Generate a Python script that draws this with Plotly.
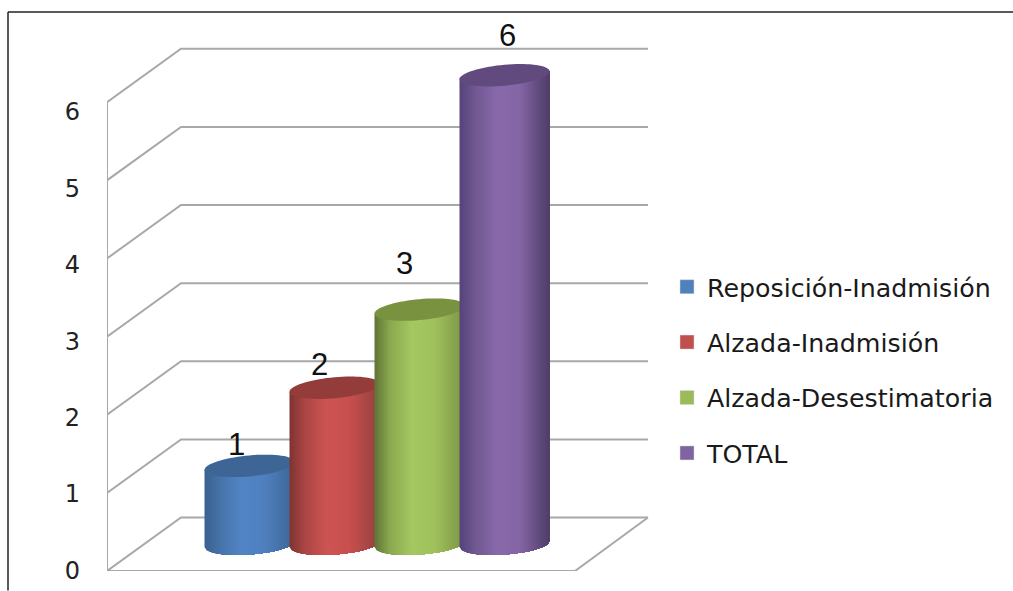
import math
import plotly.graph_objects as go

# ---- data ----
CATEGORIES = ["Reposición-Inadmisión", "Alzada-Inadmisión", "Alzada-Desestimatoria", "TOTAL"]
VALUES = [1, 2, 3, 6]
TICKS = [0, 1, 2, 3, 4, 5, 6]

# ---- style / geometry ----
W, H = 1013, 591
UNIT = 78.2           # px per value unit
CAT = 85.0            # px per category step
FIRST = 249.5         # px of first cylinder centre
LEFT, BASE = 107, 571.5
SWATCH = ["#4f81bd", "#c0504d", "#9bbb59", "#8064a2"]
CAP = ["#3d6696", "#943c3a", "#78923f", "#614a7e"]
SHADES = [
    [(0, "#3a6190"), (.17, "#4673a9"), (.42, "#5285c6"), (.67, "#4f7fbd"), (1, "#3d6696")],
    [(0, "#7d3432"), (.17, "#ab4644"), (.42, "#cd5452"), (.67, "#c74f4d"), (1, "#934140")],
    [(0, "#5f7535"), (.17, "#8aa84f"), (.42, "#a5c861"), (.67, "#a0c05c"), (1, "#7b9545")],
    [(0, "#55437a"), (.17, "#6f5890"), (.42, "#8969ab"), (.67, "#8466a5"), (1, "#4e3d68")],
]
LABEL_SHIFT = [(-13, 21), (-15, 23), (-15, 46), (3, 40)]  # px nudges of the value labels


def xv(px):
    return (px - FIRST) / CAT


def dy(px):
    return px / UNIT


def hex2rgb(c):
    return tuple(int(c[k:k + 2], 16) for k in (1, 3, 5))


def shade(stops, u):
    for (a, ca), (b, cb) in zip(stops, stops[1:]):
        if u <= b:
            f = (u - a) / (b - a)
            ra, rb = hex2rgb(ca), hex2rgb(cb)
            return "rgb(%d,%d,%d)" % tuple(round(p + (q - p) * f) for p, q in zip(ra, rb))
    return stops[-1][1]


fig = go.Figure()
GRID = dict(color="#a8a8a8", width=2)
wall_x = [xv(LEFT), xv(181), xv(648)]
for t in TICKS:
    y0 = t
    y1 = t + dy(53.5)
    fig.add_trace(go.Scatter(x=wall_x, y=[y0, y1, y1], mode="lines", line=GRID,
                             showlegend=False, hoverinfo="skip", cliponaxis=False))
# front post, floor edge
fig.add_trace(go.Scatter(x=[xv(LEFT), xv(LEFT)], y=[TICKS[0], TICKS[-1]], mode="lines", line=GRID,
                         showlegend=False, hoverinfo="skip", cliponaxis=False))
fig.add_trace(go.Scatter(x=[xv(LEFT), xv(575), xv(648)], y=[0, 0, dy(53.5)], mode="lines", line=GRID,
                         showlegend=False, hoverinfo="skip", cliponaxis=False))

# cylinders: painter's gradient, every strip runs to the right edge so no seams show
R = 45 / CAT
N = 46
BASE_C = dy(27)
for i, v in enumerate(VALUES):
    top = BASE_C + v
    grid = [-1 + 2 * k / N for k in range(N + 1)]
    for k in range(N):
        ss = grid[k:]
        xs = [i + R * s for s in ss]
        ys = [BASE_C + dy(3 * s - 10.5 * math.sqrt(max(0, 1 - s * s))) for s in ss]
        xs += [i + R * s for s in reversed(ss)]
        ys += [top + dy(4 * s) for s in reversed(ss)]
        col = shade(SHADES[i], (k + .5) / N)
        fig.add_trace(go.Scatter(x=xs, y=ys, mode="none", fill="toself", fillcolor=col,
                                 showlegend=False, hoverinfo="skip", cliponaxis=False))
    th = [2 * math.pi * j / 72 for j in range(73)]
    fig.add_trace(go.Scatter(x=[i + R * math.cos(a) for a in th],
                             y=[top + dy(4 * math.cos(a) + 10.5 * math.sin(a)) for a in th],
                             mode="none", fill="toself", fillcolor=CAP[i], showlegend=False,
                             hoverinfo="skip", cliponaxis=False))

# legend entries
for i, name in enumerate(CATEGORIES):
    fig.add_trace(go.Scatter(x=[None], y=[None], mode="markers", name=name, legendgroup=name,
                             marker=dict(symbol="square", size=14, color=SWATCH[i],
                                         line=dict(color="#d8d8d8", width=0.5))))

# carrier for the tick labels (their spacing differs a little from the gridlines)
fig.add_trace(go.Scatter(x=[xv(LEFT)] * len(TICKS), y=TICKS, yaxis="y2", mode="markers",
                         marker=dict(size=1, opacity=0), showlegend=False, hoverinfo="skip"))

# value labels
annotations = []
for i, v in enumerate(VALUES):
    annotations.append(dict(x=i, y=BASE_C + v, text=str(v), showarrow=False,
                            xshift=LABEL_SHIFT[i][0], yshift=LABEL_SHIFT[i][1],
                            font=dict(family="Liberation Sans", size=31, color="#111111")))

plot_w = W - LEFT
frame = dict(color="#222222", width=1.5)
px, py = (lambda p: (p - LEFT) / plot_w), (lambda p: (BASE - p) / BASE)
shapes = [
    dict(type="line", xref="paper", yref="paper", x0=px(8), x1=px(8), y0=py(12), y1=py(H), line=frame),
    dict(type="line", xref="paper", yref="paper", x0=px(8), x1=px(W), y0=py(12), y1=py(12), line=frame),
]

fig.update_layout(
    width=W, height=H, margin=dict(l=LEFT, r=0, t=0, b=H - BASE, pad=0, autoexpand=False),
    paper_bgcolor="white", plot_bgcolor="white", showlegend=True,
    xaxis=dict(range=[xv(LEFT), xv(W)], visible=False, fixedrange=True),
    yaxis=dict(range=[0, BASE / UNIT], visible=False, fixedrange=True),
    yaxis2=dict(overlaying="y", side="left", anchor="x", range=[-0.5 / 76.5, 571 / 76.5],
                tickvals=TICKS, ticktext=[str(t) for t in TICKS], showgrid=False, zeroline=False,
                showline=False, ticks="", ticklabelstandoff=26,
                tickfont=dict(family="DejaVu Sans", size=24, color="#222222"), fixedrange=True),
    legend=dict(x=px(667), y=py(264), xanchor="left", yanchor="top", bgcolor="rgba(0,0,0,0)",
                tracegroupgap=19.5, font=dict(family="DejaVu Sans", size=25.3, color="#1a1a1a"),
                itemclick=False, itemdoubleclick=False),
    annotations=annotations, shapes=shapes,
)
fig.write_html("out.html", config=dict(displayModeBar=False),
               post_script="document.body.style.margin='0';document.documentElement.style.overflow='hidden';")
